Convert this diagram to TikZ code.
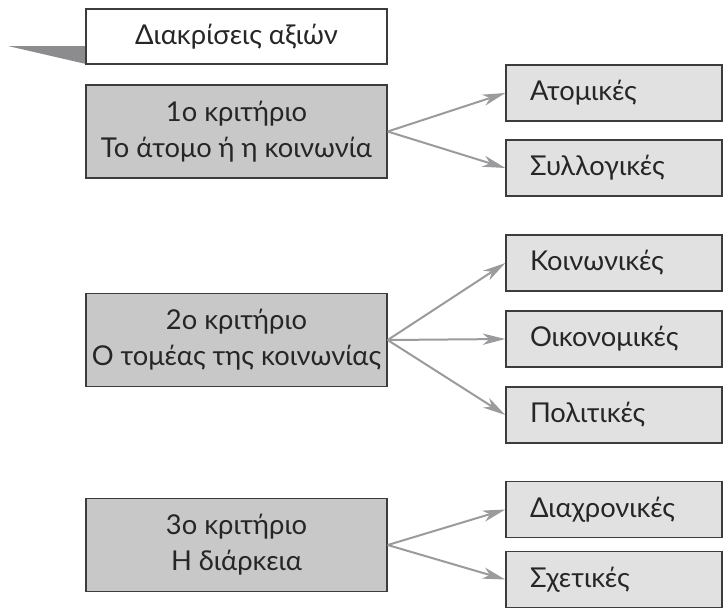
\documentclass[tikz,border=0pt]{standalone}
\usepackage{fontspec}
\setmainfont{Lato}
\usetikzlibrary{arrows.meta}

\definecolor{boxline}{RGB}{60,60,60}
\definecolor{critgray}{RGB}{200,200,201}
\definecolor{kindgray}{RGB}{225,225,226}
\definecolor{arrowgray}{RGB}{155,155,157}
\definecolor{tabgray}{RGB}{140,140,142}

\tikzset{
  labelfont/.style={font=\fontsize{20.5pt}{27pt}\selectfont, text=black!85},
  titlebox/.style={labelfont, draw=boxline, fill=white, line width=1pt, minimum width=225.75pt, minimum height=41.25pt, inner sep=0pt},
  critbox/.style={labelfont, draw=boxline, fill=critgray, line width=1pt, minimum width=225.75pt, minimum height=69.75pt, align=center, inner sep=0pt},
  kindbox/.style={labelfont, draw=boxline, fill=kindgray, line width=1pt, text width=126pt, inner xsep=18pt, inner ysep=0pt, minimum height=42pt, align=left},
  link/.style={draw=arrowgray, line width=1.5pt, -{Stealth[length=17pt,width=8.5pt,inset=5pt]}}
}

\begin{document}
\begin{tikzpicture}[x=0.75pt,y=0.75pt,yscale=-1,xscale=1]
\useasboundingbox (0,0) rectangle (723,608);
%Shape: Triangle (tab)
\fill [tabgray] (8,46) -- (86,46) -- (86,64) -- cycle ;
%Shape: Rectangle (title)
\node [titlebox] (title) at (236.5,36.5) {Διακρίσεις αξιών};
%Shape: Rectangle (criteria)
\node [critbox] (crit1) at (236.5,131.5) {1ο κριτήριο\\Το άτομο ή η κοινωνία};
\node [critbox] (crit2) at (236.5,340) {2ο κριτήριο\\Ο τομέας της κοινωνίας};
\node [critbox] (crit3) at (236.5,545) {3ο κριτήριο\\Η διάρκεια};
%Shape: Rectangle (kinds)
\node [kindbox] (atom) at (614,93) {Ατομικές};
\node [kindbox] (syll) at (614,168) {Συλλογικές};
\node [kindbox] (koin) at (614,263) {Κοινωνικές};
\node [kindbox] (oik) at (614,339) {Οικονομικές};
\node [kindbox] (pol) at (614,415) {Πολιτικές};
\node [kindbox] (diach) at (614,509.5) {Διαχρονικές};
\node [kindbox] (sxet) at (614,579.5) {Σχετικές};
%Straight Lines (arrows)
\draw [link] (crit1.east) -- (atom.west);
\draw [link] (crit1.east) -- (syll.west);
\draw [link] (crit2.east) -- (koin.west);
\draw [link] (crit2.east) -- (oik.west);
\draw [link] (crit2.east) -- (pol.west);
\draw [link] (crit3.east) -- (diach.west);
\draw [link] (crit3.east) -- (sxet.west);
\end{tikzpicture}
\end{document}
